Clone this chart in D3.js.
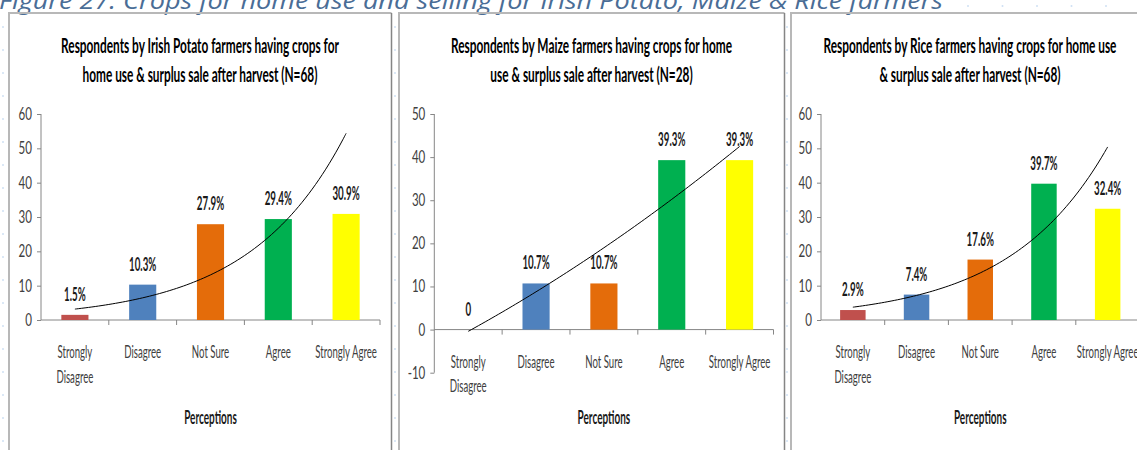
<!DOCTYPE html>
<html>
<head>
<meta charset="utf-8">
<script src="https://cdn.jsdelivr.net/npm/d3@7"></script>
<style>
  html, body { margin: 0; padding: 0; background: #ffffff; }
  svg { display: block; }
</style>
</head>
<body>
<svg id="chart" width="1137" height="450"></svg>
<script>
// ---------------- DATA ----------------
const figureCaption = "Figure 27: Crops for home use and selling for Irish Potato, Maize & Rice farmers";
const categories = ["Strongly Disagree", "Disagree", "Not Sure", "Agree", "Strongly Agree"];
const categoryTickLines = [["Strongly", "Disagree"], ["Disagree"], ["Not Sure"], ["Agree"], ["Strongly Agree"]];
const barColors = ["#C0504D", "#4F81BD", "#E46C0A", "#00B050", "#FFFF00"];
const xAxisTitle = "Perceptions";

const potatoTitle = ["Respondents by Irish Potato farmers having crops for", "home use & surplus sale after harvest (N=68)"];
const potatoValues = [1.5, 10.3, 27.9, 29.4, 30.9];
const potatoLabels = ["1.5%", "10.3%", "27.9%", "29.4%", "30.9%"];
const potatoTicks = [0, 10, 20, 30, 40, 50, 60];

const maizeTitle = ["Respondents by Maize farmers having crops for home", "use & surplus sale after harvest (N=28)"];
const maizeValues = [0, 10.7, 10.7, 39.3, 39.3];
const maizeLabels = ["0", "10.7%", "10.7%", "39.3%", "39.3%"];
const maizeTicks = [-10, 0, 10, 20, 30, 40, 50];

const riceTitle = ["Respondents by Rice farmers having crops for home use", "& surplus sale after harvest (N=68)"];
const riceValues = [2.9, 7.4, 17.6, 39.7, 32.4];
const riceLabels = ["2.9%", "7.4%", "17.6%", "39.7%", "32.4%"];
const riceTicks = [0, 10, 20, 30, 40, 50, 60];

// ---------------- HELPERS ----------------
const svg = d3.select("#chart");
const FONT = "Lato, 'Open Sans', 'Liberation Sans', sans-serif";

function measure(str, size, weight) {
  const t = svg.append("text").attr("font-family", FONT).attr("font-size", size)
    .attr("font-weight", weight).text(str);
  const w = t.node().getComputedTextLength();
  t.remove();
  return w;
}
// horizontal compression factors so the (condensed) text widths match the reference
const ST = {
  title:  { size: 21.5, weight: 700, fill: "#000000" },
  label:  { size: 18, weight: 700, fill: "#1a1a1a" },
  tick:   { size: 17, weight: 400, fill: "#404040" },
  cat:    { size: 17.5, weight: 400, fill: "#404040" },
  axis:   { size: 18, weight: 700, fill: "#1a1a1a" }
};
ST.title.sx = 278 / measure(potatoTitle[0], ST.title.size, 700);
ST.label.sx = 27.3 / measure("27.9%", ST.label.size, 700);
ST.tick.sx  = 13.4 / measure("60", ST.tick.size, 400);
ST.cat.sx   = 61.7 / measure("Strongly Agree", ST.cat.size, 400);
ST.axis.sx  = 52.7 / measure(xAxisTitle, ST.axis.size, 700);

function sText(g, str, x, y, st, anchor, dy) {
  return g.append("text")
    .attr("transform", `translate(${x},${y}) scale(${st.sx},1)`)
    .attr("text-anchor", anchor || "middle")
    .attr("dy", dy || 0)
    .attr("font-family", FONT)
    .attr("font-size", st.size)
    .attr("font-weight", st.weight)
    .attr("fill", st.fill)
    .text(str);
}

// Excel-style trendlines (least squares fits of the bar values)
function expFit(vals) {
  const xs = vals.map((_, i) => i + 1), ly = vals.map(v => Math.log(v));
  const mx = d3.mean(xs), my = d3.mean(ly);
  const b = d3.sum(xs, (x, i) => (x - mx) * (ly[i] - my)) / d3.sum(xs, x => (x - mx) ** 2);
  const a = my - b * mx;
  return x => Math.exp(a + b * x);
}
function polyFit2(vals) {
  const n = vals.length, xs = vals.map((_, i) => i + 1);
  const S = k => d3.sum(xs, x => x ** k);
  const T = k => d3.sum(xs, (x, i) => x ** k * vals[i]);
  const M = [[n, S(1), S(2)], [S(1), S(2), S(3)], [S(2), S(3), S(4)]];
  const r = [T(0), T(1), T(2)];
  const det = m => m[0][0]*(m[1][1]*m[2][2]-m[1][2]*m[2][1]) - m[0][1]*(m[1][0]*m[2][2]-m[1][2]*m[2][0]) + m[0][2]*(m[1][0]*m[2][1]-m[1][1]*m[2][0]);
  const D = det(M);
  const c = [0, 1, 2].map(j => det(M.map((row, i) => row.map((v, k) => k === j ? r[i] : v))) / D);
  return x => c[0] + c[1] * x + c[2] * x * x;
}

// ---------------- BACKGROUND DECORATION ----------------
const dots = svg.append("g").attr("fill", "#cfe0f3");
[3, 395, 787].forEach(cx => {
  d3.range(27, 450, 23).forEach(cy => dots.append("circle").attr("cx", cx).attr("cy", cy).attr("r", 1));
});
d3.range(968, 1137, 34.5).forEach(cx => dots.append("circle").attr("cx", cx).attr("cy", 6).attr("r", 1));

svg.append("text")
  .attr("x", -1).attr("y", 9)
  .attr("font-family", "'Open Sans', 'Liberation Sans', sans-serif")
  .attr("font-style", "italic")
  .attr("font-size", 23)
  .attr("fill", "#4a6d96")
  .attr("textLength", 944)
  .attr("lengthAdjust", "spacingAndGlyphs")
  .text(figureCaption);

// ---------------- PANELS ----------------
const panels = [
  { title: potatoTitle, values: potatoValues, labels: potatoLabels, ticks: potatoTicks, titleX: 200,
    box: [9, 391.5], left: 41, right: 380, yTop: 114, yBot: 320, fit: expFit(potatoValues) },
  { title: maizeTitle, values: maizeValues, labels: maizeLabels, ticks: maizeTicks, titleX: 591.5,
    box: [399, 784.5], left: 434.3, right: 773.5, yTop: 114, yBot: 372.7, fit: polyFit2(maizeValues) },
  { title: riceTitle, values: riceValues, labels: riceLabels, ticks: riceTicks, titleX: 970,
    box: [791, 1160], left: 821, right: 1139.5, yTop: 114, yBot: 320, fit: expFit(riceValues) }
];

panels.forEach(p => {
  const g = svg.append("g");
  // frame
  g.append("path").attr("d", `M${p.box[0]},460V13H${p.box[1]}`)
    .attr("fill", "none").attr("stroke", "#b8b8b8").attr("stroke-width", 2);
  g.append("line").attr("x1", p.box[1]).attr("x2", p.box[1]).attr("y1", 13).attr("y2", 460)
    .attr("stroke", "#858585").attr("stroke-width", 1.5);

  const y = d3.scaleLinear().domain(d3.extent(p.ticks)).range([p.yBot, p.yTop]);
  const x = d3.scaleBand().domain(categories).range([p.left, p.right]).paddingInner(0.6).paddingOuter(0.3);
  const step = x.step();
  const cx = c => x(c) + x.bandwidth() / 2;
  const y0 = y(0);
  const centerX = (p.left + p.right) / 2;

  // title
  sText(g, p.title[0], p.titleX, 53.3, ST.title);
  sText(g, p.title[1], p.titleX, 81.7, ST.title);

  // y axis
  const yAxis = g.append("g").attr("transform", `translate(${p.left},0)`)
    .call(d3.axisLeft(y).tickValues(p.ticks).tickSize(4).tickFormat(""));
  yAxis.select(".domain").attr("stroke", "#868686").attr("d", `M0,${p.yBot}V${p.yTop}`);
  yAxis.selectAll(".tick line").attr("stroke", "#868686");
  p.ticks.forEach(t => sText(g, String(t), p.left - 9, y(t), ST.tick, "end", "0.35em"));

  // x axis at 0
  const boundaries = d3.range(0, categories.length + 1).map(i => p.left + i * step);
  g.append("line").attr("x1", p.left).attr("x2", p.right).attr("y1", y0).attr("y2", y0)
    .attr("stroke", "#868686").attr("stroke-width", 1);
  g.selectAll(".xt").data(boundaries.slice(1)).join("line")
    .attr("x1", d => d).attr("x2", d => d).attr("y1", y0).attr("y2", y0 + 5)
    .attr("stroke", "#868686");

  // category labels
  categories.forEach((c, i) => {
    categoryTickLines[i].forEach((ln, j) => sText(g, ln, cx(c), y0 + 38.3 + j * 24.4, ST.cat));
  });
  sText(g, xAxisTitle, centerX, 424, ST.axis);

  // bars
  g.selectAll(".bar").data(p.values).join("rect")
    .attr("x", (d, i) => x(categories[i]))
    .attr("width", x.bandwidth())
    .attr("y", d => Math.min(y(d), y0))
    .attr("height", d => Math.abs(y0 - y(d)))
    .attr("fill", (d, i) => barColors[i]);

  // data labels
  p.values.forEach((v, i) => sText(g, p.labels[i], cx(categories[i]), y(v) - 14, ST.label));

  // trendline
  const xc = d3.scaleLinear().domain([1, categories.length]).range([cx(categories[0]), cx(categories[categories.length - 1])]);
  const pts = d3.range(1, 5.0001, 0.05).map(t => [xc(t), y(p.fit(t))]);
  g.append("path").attr("d", d3.line().curve(d3.curveBasis)(pts))
    .attr("fill", "none").attr("stroke", "#000").attr("stroke-width", 1);
});
</script>
</body>
</html>
